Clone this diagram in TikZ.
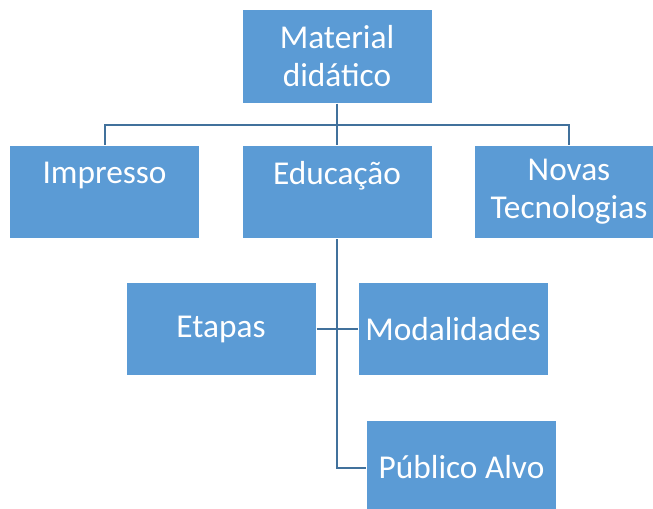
\documentclass[tikz,border=0pt]{standalone}
\usepackage{fontspec}
\setmainfont{Carlito}
\definecolor{boxblue}{HTML}{5B9BD5}
\definecolor{linkblue}{HTML}{41719C}
\tikzset{
  box/.style={draw=white, line width=0.75pt, fill=boxblue, text=white,
    minimum width=142.5pt, minimum height=70pt, inner sep=2pt, align=center,
    font=\fontsize{25}{28.5}\selectfont},
  link/.style={draw=linkblue, line width=1.5pt}
}

\begin{document}
\begin{tikzpicture}[x=0.75pt,y=-0.75pt]
\useasboundingbox (0,0) rectangle (653,508);
\node[box] (mat) at (337,56.5) {Material\\didático};
\node[box] (imp) at (104.5,192) {Impresso\\\phantom{X}};
\node[box] (edu) at (337,192) {Educação\\\phantom{X}};
\node[box] (nov) at (569,192) {Novas\\Tecnologias};
\node[box] (eta) at (221,329) {Etapas};
\node[box] (mod) at (453,329) {Modalidades};
\node[box] (pub) at (461.5,467.5) {Público Alvo};
\coordinate (bus) at (337,125);
\path[link] (mat) -- (bus);
\path[link] (imp.north) |- (bus) -| (nov.north);
\path[link] (bus) -- (edu.north);
\path[link] (edu.south) |- (pub.west);
\path[link] (eta.east) -- (mod.west);
\end{tikzpicture}
\end{document}
